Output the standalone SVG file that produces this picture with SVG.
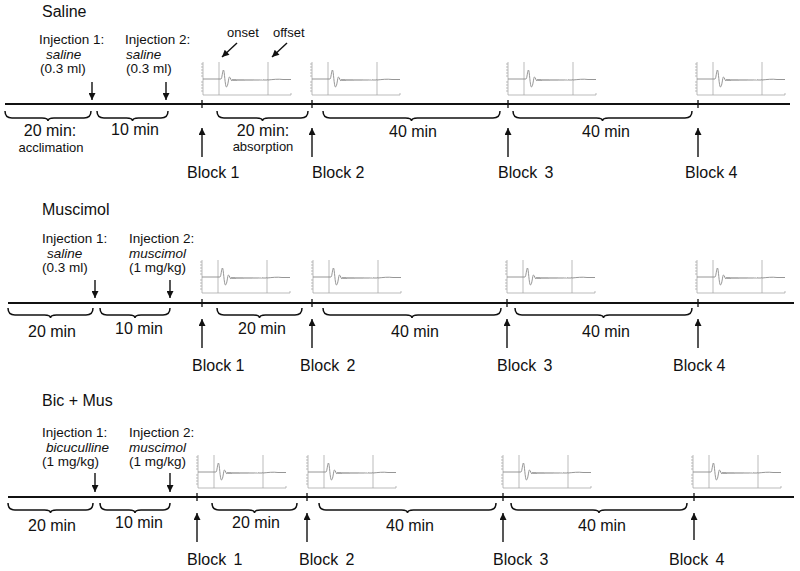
<svg xmlns="http://www.w3.org/2000/svg" xmlns:xlink="http://www.w3.org/1999/xlink" width="800" height="571" viewBox="0 0 800 571">
<style>
text{font-family:"Liberation Sans",Arial,sans-serif;fill:#111}
.title{font-size:16px}
.inj{font-size:13.5px}
.it{font-size:13.5px;font-style:italic}
.lab{font-size:16px;text-anchor:middle}
.sub{font-size:13px;text-anchor:middle}
.blk{font-size:16px}
.small{font-size:13px}
.tl{stroke:#111;stroke-width:2;fill:none}
.tick{stroke:#111;stroke-width:1.3}
.brace{stroke:#111;stroke-width:1.5;fill:none}
.arr{stroke:#111;stroke-width:1.4;fill:none;marker-end:url(#ah)}
.tr{stroke:#8a8a8a;stroke-width:0.9;fill:none}
.ax{stroke:#aaa;stroke-width:0.8;fill:none}
</style>
<defs>
<marker id="ah" viewBox="0 0 10 10" refX="10" refY="5" markerWidth="9" markerHeight="7" orient="auto" markerUnits="userSpaceOnUse"><path d="M0,0 L10,5 L0,10 z" fill="#111"/></marker>
<g id="trace">
<path class="ax" d="M0 0 V33 H88 M88 33 V31 M16 0 V33 M65 0 V33"/>
<path class="ax" d="M-2 2 H0 M-2 5 H0 M-2 8 H0 M-2 11 H0 M-2 14 H0 M-2 20 H0 M-2 23 H0 M-2 26 H0 M-2 29 H0"/>
<path class="tr" d="M0 17 L18 17 C19 17 19.5 8 20.5 8 C21.5 8 22 25 23.5 25 C25 25 25.5 15 26.5 15 C27.5 15 28 19 29 19 L30 17 L31 19 L32 17 L33 19 L34 17.2 L35 18.8 L36 17.2 L37 18.8 L38 17.2 L39 18.8 L40 17.2 L41 18.8 L42 17.3 L43 18.7 L44 17.3 L45 18.7 L46 17.3 L47 18.7 L48 17.3 L49 18.7 L50 17.3 L51 18.6 L52 17.4 L53 18.6 L54 17.4 L55 18.6 L56 17.4 L57 18.5 L58 17.5 L59 18.5 L60 17.5 L61 18.4 L62 17.6 L63 18.4 L64 17.6 L65 18 C70 17.5 75 16.8 80 17.5 L88 17.5"/>
</g>
</defs>

<!-- Panel 1: Saline -->
<g id="saline">
<text class="title" x="42" y="17">Saline</text>
<g id="saline-inj1"><text class="inj" x="39" y="44">Injection 1:</text><text class="it" x="46" y="58.5">saline</text><text class="inj" x="40" y="73">(0.3 ml)</text></g>
<g id="saline-inj2"><text class="inj" x="125" y="44">Injection 2:</text><text class="it" x="126" y="58.5">saline</text><text class="inj" x="126" y="73">(0.3 ml)</text></g>
<text class="small" x="227" y="37">onset</text>
<text class="small" x="273" y="37">offset</text>
<use xlink:href="#trace" href="#trace" x="203" y="62"/>
<use xlink:href="#trace" href="#trace" x="312" y="62"/>
<use xlink:href="#trace" href="#trace" x="508" y="62"/>
<use xlink:href="#trace" href="#trace" x="697" y="62"/>
<line class="tl" x1="5" y1="104" x2="790" y2="104"/>
<text class="lab" x="50" y="136">20 min:</text><text class="sub" x="51" y="152">acclimation</text>
<text class="lab" x="135" y="135">10 min</text>
<text class="lab" x="263" y="136">20 min:</text><text class="sub" x="263" y="151">absorption</text>
<text class="lab" x="413" y="137">40 min</text>
<text class="lab" x="606" y="137">40 min</text>
<g id="saline-b1"><text class="blk" x="187" y="178">Block 1</text></g>
<g id="saline-b2"><text class="blk" x="312" y="178">Block 2</text></g>
<g id="saline-b3"><text class="blk" x="498" y="178" word-spacing="3">Block 3</text></g>
<g id="saline-b4"><text class="blk" x="685" y="178">Block 4</text></g>
</g>

<!-- Panel 2: Muscimol -->
<g id="muscimol">
<text class="title" x="42" y="215">Muscimol</text>
<g id="mus-inj1"><text class="inj" x="42" y="243">Injection 1:</text><text class="it" x="47" y="257.5">saline</text><text class="inj" x="42" y="272">(0.3 ml)</text></g>
<g id="mus-inj2"><text class="inj" x="129" y="243">Injection 2:</text><text class="it" x="129" y="257.5">muscimol</text><text class="inj" x="129" y="272">(1 mg/kg)</text></g>
<use xlink:href="#trace" href="#trace" x="202" y="260"/>
<use xlink:href="#trace" href="#trace" x="313" y="260"/>
<use xlink:href="#trace" href="#trace" x="507" y="260"/>
<use xlink:href="#trace" href="#trace" x="697" y="260"/>
<line class="tl" x1="8" y1="303" x2="794" y2="303"/>
<text class="lab" x="52" y="337">20 min</text>
<text class="lab" x="139" y="334">10 min</text>
<text class="lab" x="262" y="334">20 min</text>
<text class="lab" x="415" y="337">40 min</text>
<text class="lab" x="606" y="337">40 min</text>
<g id="mus-b1"><text class="blk" x="192" y="371">Block 1</text></g>
<g id="mus-b2"><text class="blk" x="300" y="371" word-spacing="3">Block 2</text></g>
<g id="mus-b3"><text class="blk" x="497" y="371" word-spacing="3">Block 3</text></g>
<g id="mus-b4"><text class="blk" x="673" y="371">Block 4</text></g>
</g>

<!-- Panel 3: Bic + Mus -->
<g id="bicmus">
<text class="title" x="42" y="406">Bic + Mus</text>
<g id="bic-inj1"><text class="inj" x="42" y="437">Injection 1:</text><text class="it" x="46" y="451.5">bicuculline</text><text class="inj" x="42" y="466">(1 mg/kg)</text></g>
<g id="bic-inj2"><text class="inj" x="129" y="437">Injection 2:</text><text class="it" x="129" y="451.5">muscimol</text><text class="inj" x="129" y="466">(1 mg/kg)</text></g>
<use xlink:href="#trace" href="#trace" x="198" y="455"/>
<use xlink:href="#trace" href="#trace" x="308" y="455"/>
<use xlink:href="#trace" href="#trace" x="503" y="455"/>
<use xlink:href="#trace" href="#trace" x="693" y="455"/>
<line class="tl" x1="8" y1="497" x2="794" y2="497"/>
<text class="lab" x="52" y="531">20 min</text>
<text class="lab" x="139" y="528">10 min</text>
<text class="lab" x="256" y="528">20 min</text>
<text class="lab" x="410" y="531">40 min</text>
<text class="lab" x="602" y="531">40 min</text>
<g id="bic-b1"><text class="blk" x="187" y="565" word-spacing="3">Block 1</text></g>
<g id="bic-b2"><text class="blk" x="299" y="565" word-spacing="3">Block 2</text></g>
<g id="bic-b3"><text class="blk" x="493" y="565" word-spacing="3">Block 3</text></g>
<g id="bic-b4"><text class="blk" x="669" y="565" word-spacing="3">Block 4</text></g>
</g>

<!-- connectors: arrows, ticks, braces -->
<g id="connectors">
<line class="arr" x1="237" y1="43" x2="222" y2="57"/>
<line class="arr" x1="287" y1="43" x2="272" y2="57"/>
<line class="arr" x1="92" y1="82" x2="92" y2="100"/>
<line class="arr" x1="166" y1="82" x2="166" y2="100"/>
<line class="arr" x1="95" y1="280" x2="95" y2="298"/>
<line class="arr" x1="170" y1="280" x2="170" y2="298"/>
<line class="arr" x1="95" y1="473" x2="95" y2="492"/>
<line class="arr" x1="170" y1="473" x2="170" y2="492"/>

<path class="tick" d="M202 100 V108 M312 100 V108 M508 100 V108 M698 100 V108"/>
<path class="tick" d="M202 299 V307 M312 299 V307 M507 299 V307 M698 299 V307"/>
<path class="tick" d="M197 493 V501 M307 493 V501 M503 493 V501 M694 493 V501"/>

<line class="arr" x1="202" y1="157" x2="202" y2="128"/>
<line class="arr" x1="312" y1="157" x2="312" y2="128"/>
<line class="arr" x1="508" y1="157" x2="508" y2="128"/>
<line class="arr" x1="698" y1="157" x2="698" y2="128"/>
<line class="arr" x1="202" y1="348" x2="202" y2="319"/>
<line class="arr" x1="312" y1="348" x2="312" y2="319"/>
<line class="arr" x1="507" y1="348" x2="507" y2="319"/>
<line class="arr" x1="698" y1="348" x2="698" y2="319"/>
<line class="arr" x1="197" y1="542" x2="197" y2="513"/>
<line class="arr" x1="307" y1="542" x2="307" y2="513"/>
<line class="arr" x1="503" y1="542" x2="503" y2="513"/>
<line class="arr" x1="694" y1="540" x2="694" y2="513"/>

<path class="brace" d="M5 111 Q5 118 12 118 L42 118 Q48 118 48 121 Q48 118 54 118 L84 118 Q91 118 91 111"/>
<path class="brace" d="M97 111 Q97 118 104 118 L126.5 118 Q132.5 118 132.5 121 Q132.5 118 138.5 118 L161 118 Q168 118 168 111"/>
<path class="brace" d="M217 111 Q217 118 224 118 L256.5 118 Q262.5 118 262.5 121 Q262.5 118 268.5 118 L301 118 Q308 118 308 111"/>
<path class="brace" d="M323 111 Q323 118 330 118 L405.5 118 Q411.5 118 411.5 121 Q411.5 118 417.5 118 L493 118 Q500 118 500 111"/>
<path class="brace" d="M513 111 Q513 118 520 118 L596.5 118 Q602.5 118 602.5 121 Q602.5 118 608.5 118 L685 118 Q692 118 692 111"/>

<path class="brace" d="M8 308 Q8 315 15 315 L44.5 315 Q50.5 315 50.5 318 Q50.5 315 56.5 315 L86 315 Q93 315 93 308"/>
<path class="brace" d="M100 308 Q100 315 107 315 L129 315 Q135 315 135 318 Q135 315 141 315 L163 315 Q170 315 170 308"/>
<path class="brace" d="M217 308 Q217 315 224 315 L253.5 315 Q259.5 315 259.5 318 Q259.5 315 265.5 315 L295 315 Q302 315 302 308"/>
<path class="brace" d="M323 308 Q323 315 330 315 L406 315 Q412 315 412 318 Q412 315 418 315 L494 315 Q501 315 501 308"/>
<path class="brace" d="M515 308 Q515 315 522 315 L597.5 315 Q603.5 315 603.5 318 Q603.5 315 609.5 315 L685 315 Q692 315 692 308"/>

<path class="brace" d="M8 503 Q8 510 15 510 L44.5 510 Q50.5 510 50.5 513 Q50.5 510 56.5 510 L86 510 Q93 510 93 503"/>
<path class="brace" d="M100 503 Q100 510 107 510 L129 510 Q135 510 135 513 Q135 510 141 510 L163 510 Q170 510 170 503"/>
<path class="brace" d="M212 503 Q212 510 219 510 L248.5 510 Q254.5 510 254.5 513 Q254.5 510 260.5 510 L290 510 Q297 510 297 503"/>
<path class="brace" d="M319 503 Q319 510 326 510 L401.5 510 Q407.5 510 407.5 513 Q407.5 510 413.5 510 L489 510 Q496 510 496 503"/>
<path class="brace" d="M511 503 Q511 510 518 510 L593 510 Q599 510 599 513 Q599 510 605 510 L680 510 Q687 510 687 503"/>
</g>
</svg>
